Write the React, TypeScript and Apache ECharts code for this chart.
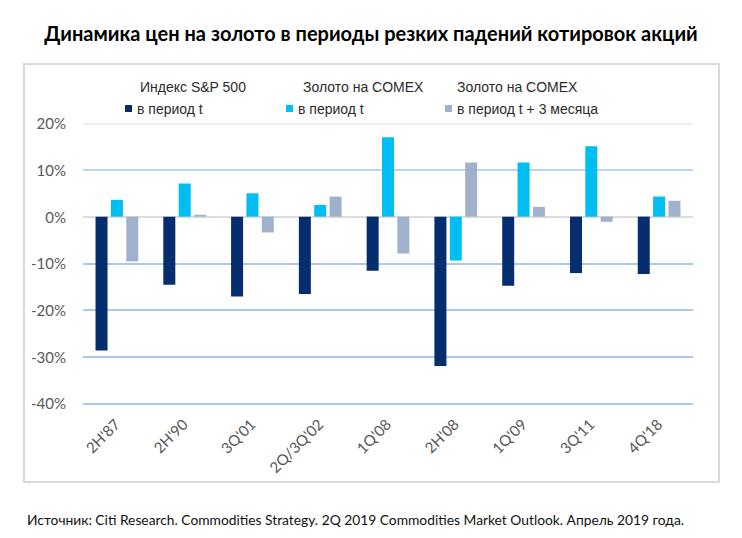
import React, { useEffect, useRef } from "react";
import * as echarts from "echarts";

const titleText = "Динамика цен на золото в периоды резких падений котировок акций";
const footerText =
  "Источник: Citi Research. Commodities Strategy. 2Q 2019 Commodities Market Outlook. Апрель 2019 года.";

const categories = ["2H'87", "2H'90", "3Q'01", "2Q/3Q'02", "1Q'08", "2H'08", "1Q'09", "3Q'11", "4Q'18"];
const sp500 = [-28.7, -14.6, -17.1, -16.6, -11.6, -32.0, -14.8, -12.1, -12.3];
const goldT = [3.6, 7.1, 5.0, 2.5, 17.0, -9.4, 11.6, 15.1, 4.3];
const goldT3 = [-9.6, 0.4, -3.4, 4.3, -7.9, 11.6, 2.1, -1.1, 3.4];

const legendHeaders = ["Индекс S&P 500", "Золото на COMEX", "Золото на COMEX"];
const legendLabels = ["в период t", "в период t", "в период t + 3 месяца"];
const seriesNames = legendHeaders.map((h, i) => h + " " + legendLabels[i]);
const seriesColors = ["#062d6e", "#00bdf2", "#9fb1cc"];
const seriesData = [sp500, goldT, goldT3];

const yMin = -40;
const yMax = 20;
const yStep = 10;

export default function App() {
  const ref = useRef<HTMLDivElement>(null);
  useEffect(() => {
    if (!ref.current) return;
    const chart = echarts.init(ref.current, null, { renderer: "svg" });
    const legendLeft = [125, 286, 445];
    const headerLeft = [140, 303, 457];
    const option: any = {
      animation: false,
      backgroundColor: "#ffffff",
      title: {
        text: titleText,
        left: "center",
        top: 18,
        textStyle: {
          fontFamily: "Lato",
          fontWeight: "bold",
          fontSize: 20,
          color: "#000000",
        },
      },
      legend: seriesNames.map((n, i) => ({
        data: [n],
        left: legendLeft[i],
        top: 100,
        padding: 0,
        icon: "rect",
        itemWidth: 7,
        itemHeight: 7,
        selectedMode: false,
        formatter: () => legendLabels[i],
        textStyle: {
          fontFamily: "Liberation Sans",
          fontSize: 14,
          color: "#2b2b2b",
          lineHeight: 17,
        },
      })),
      grid: {
        left: 83,
        right: 49,
        top: 123.3,
        bottom: 134.7,
        containLabel: false,
      },
      xAxis: {
        type: "category",
        data: categories,
        axisLine: { show: false },
        axisTick: { show: false },
        axisLabel: {
          interval: 0,
          rotate: 45,
          margin: 18,
          color: "#555555",
          fontFamily: "Lato",
          fontSize: 15,
        },
        splitLine: { show: false },
      },
      yAxis: {
        type: "value",
        min: yMin,
        max: yMax,
        interval: yStep,
        axisLine: { show: false },
        axisTick: { show: false },
        axisLabel: {
          formatter: "{value}%",
          color: "#595959",
          fontFamily: "Lato",
          fontSize: 15,
          margin: 17,
        },
        splitLine: {
          show: true,
          lineStyle: {
            color: ["#8fb4e6", "#8fb4e6", "#8fb4e6", "#8fb4e6", "#d0d0d0", "#a6c4ee", "#dfe9f8"],
            width: 1.6,
          },
        },
      },
      series: seriesNames.map((n, i) => ({
        name: n,
        type: "bar",
        data: seriesData[i],
        barWidth: 12,
        barGap: "28%",
        itemStyle: { color: seriesColors[i] },
      })),
      graphic: [
        {
          type: "rect",
          shape: { x: 24, y: 64, width: 695, height: 418 },
          style: { fill: "none", stroke: "#d9d9d9", lineWidth: 2 },
          silent: true,
          z: -1,
        },
        ...legendHeaders.map((h, i) => ({
          type: "text",
          x: headerLeft[i],
          y: 87,
          style: {
            text: h,
            fontFamily: "Liberation Sans",
            fontSize: 14,
            fill: "#2b2b2b",
            verticalAlign: "middle",
          },
        })),
        {
          type: "text",
          x: 27,
          y: 519,
          style: {
            text: footerText,
            fontFamily: "Lato",
            fontSize: 13.8,
            fill: "#111111",
            verticalAlign: "middle",
          },
        },
      ],
    };
    chart.setOption(option);
    return () => chart.dispose();
  }, []);
  return (
    <div
      ref={ref}
      style={{ position: "fixed", left: 0, top: 0, width: 742, height: 538, background: "#fff" }}
    />
  );
}
